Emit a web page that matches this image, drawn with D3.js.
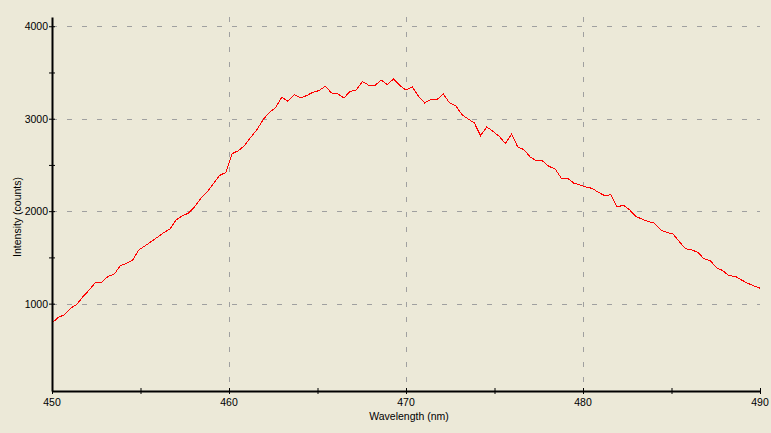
<!DOCTYPE html>
<meta charset="utf-8">
<script src="https://d3js.org/d3.v7.min.js"></script>
<style>
  body { margin: 0; background: #ece9d8; }
  text { font-family: "Liberation Sans", Arial, sans-serif; font-size: 10.5px; fill: #000; }
</style>
<div id="chart"></div>
<script>
  // wavelength grid (nm) and measured intensity (counts)
  var wlStart = 450, wlEnd = 490;
  var intensity = [
    788, 853, 878, 950, 993, 1076, 1148, 1228, 1232, 1293,
    1318, 1408, 1437, 1473, 1582, 1625, 1672, 1719, 1769, 1806,
    1907, 1950, 1979, 2051, 2142, 2207, 2297, 2387, 2419, 2622,
    2654, 2709, 2799, 2882, 2990, 3069, 3120, 3232, 3189, 3261,
    3225, 3250, 3286, 3304, 3351, 3279, 3269, 3225, 3294, 3312,
    3402, 3362, 3359, 3420, 3369, 3431, 3359, 3310, 3345, 3243,
    3171, 3207, 3207, 3269, 3171, 3142, 3044, 2998, 2954, 2817,
    2911, 2864, 2810, 2730, 2835, 2694, 2665, 2586, 2546, 2543,
    2484, 2459, 2358, 2358, 2304, 2283, 2261, 2246, 2203, 2167,
    2178, 2044, 2066, 2015, 1943, 1914, 1888, 1871, 1798, 1769,
    1752, 1672, 1593, 1582, 1553, 1484, 1466, 1387, 1358, 1300,
    1297, 1257, 1221, 1192, 1167
  ];
  var xLabels = [450, 460, 470, 480, 490];
  var xTicks = [450, 455, 460, 465, 470, 475, 480, 485, 490];
  var xGrid = [460, 470, 480];
  var yLabels = [1000, 2000, 3000, 4000];
  var yTicks = [1000, 1500, 2000, 2500, 3000, 3500, 4000];

  var W = 771, H = 433;
  var plotLeft = 52, plotRight = 760, plotTop = 17, plotBottom = 391;

  var svg = d3.select("#chart").append("svg")
    .attr("width", W).attr("height", H)
    .style("display", "block");

  svg.append("rect").attr("width", W).attr("height", H).attr("fill", "#ece9d8");

  var step = (wlEnd - wlStart) / (intensity.length - 1);
  var data = intensity.map(function (v, i) { return { wl: wlStart + i * step, v: v }; });

  var x = d3.scaleLinear().domain([wlStart, wlEnd]).range([plotLeft, plotRight]);
  var y = d3.scaleLinear().domain([55, 4100]).range([plotBottom, plotTop]);

  // grid
  svg.append("g").selectAll("line").data(yLabels).join("line")
    .attr("x1", plotLeft).attr("x2", plotRight)
    .attr("y1", function (d) { return Math.round(y(d)) + 0.5; })
    .attr("y2", function (d) { return Math.round(y(d)) + 0.5; })
    .attr("stroke", "#a0a0a0").attr("stroke-dasharray", "5,10");
  svg.append("g").selectAll("line").data(xGrid).join("line")
    .attr("x1", function (d) { return Math.round(x(d)) + 0.5; })
    .attr("x2", function (d) { return Math.round(x(d)) + 0.5; })
    .attr("y1", plotTop).attr("y2", plotBottom)
    .attr("stroke", "#a0a0a0").attr("stroke-dasharray", "5,10");

  // data line
  svg.append("path")
    .datum(data)
    .attr("fill", "none")
    .attr("stroke", "#ff0000")
    .attr("stroke-width", 1)
    .attr("shape-rendering", "crispEdges")
    .attr("d", d3.line()
      .x(function (d) { return x(d.wl); })
      .y(function (d) { return y(d.v); }));

  // axes
  var xAxis = svg.append("g")
    .attr("transform", "translate(0," + plotBottom + ")")
    .call(d3.axisBottom(x).tickValues(xTicks).tickSizeInner(3).tickSizeOuter(0).tickFormat(""));
  xAxis.select(".domain").attr("stroke", "#000").attr("stroke-width", 2);
  xAxis.selectAll(".tick line").attr("y1", -3).attr("y2", 3).attr("stroke", "#000");

  var yAxis = svg.append("g")
    .attr("transform", "translate(" + plotLeft + ",0)")
    .call(d3.axisLeft(y).tickValues(yTicks).tickSizeInner(3).tickSizeOuter(0).tickFormat(""));
  yAxis.select(".domain").attr("stroke", "#000").attr("stroke-width", 2);
  yAxis.selectAll(".tick line").attr("x1", -3).attr("x2", 3).attr("stroke", "#000");

  // tick labels
  svg.append("g").selectAll("text").data(xLabels).join("text")
    .attr("x", function (d) { return x(d); })
    .attr("y", plotBottom + 15)
    .attr("text-anchor", "middle")
    .text(function (d) { return d; });
  svg.append("g").selectAll("text").data(yLabels).join("text")
    .attr("x", plotLeft - 4)
    .attr("y", function (d) { return y(d) + 4; })
    .attr("text-anchor", "end")
    .text(function (d) { return d; });

  // axis titles
  svg.append("text")
    .attr("x", (plotLeft + plotRight) / 2 + 3)
    .attr("y", 420)
    .attr("text-anchor", "middle")
    .text("Wavelength (nm)");
  svg.append("text")
    .attr("transform", "translate(21,217) rotate(-90)")
    .attr("text-anchor", "middle")
    .text("Intensity (counts)");
</script>
